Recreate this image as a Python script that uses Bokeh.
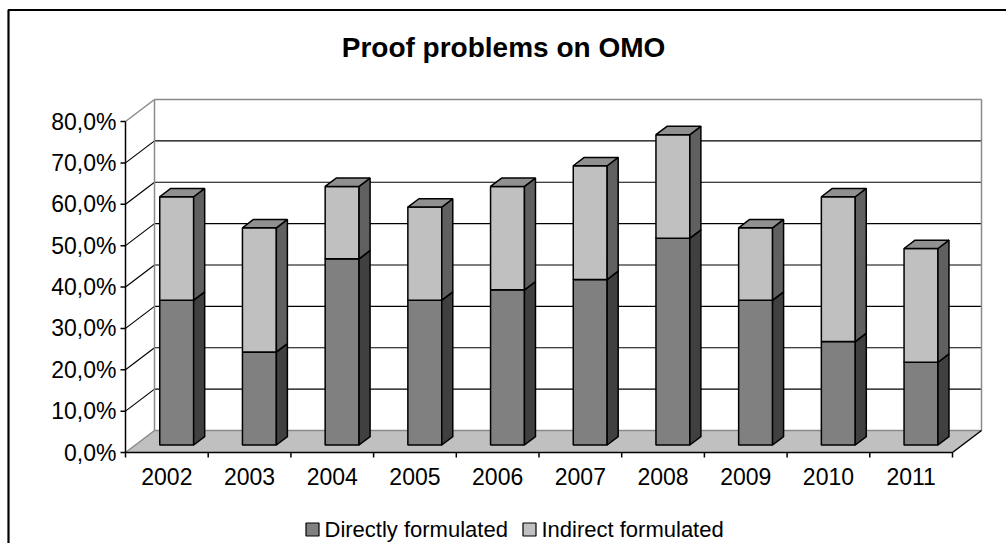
from bokeh.plotting import figure
from bokeh.models import Range1d
from bokeh.embed import file_html
from bokeh.resources import INLINE
from bokeh.core.properties import value

# ---------------- data ----------------
years = ["2002", "2003", "2004", "2005", "2006", "2007", "2008", "2009", "2010", "2011"]
direct = [35.0, 22.5, 45.0, 35.0, 37.5, 40.0, 50.0, 35.0, 25.0, 20.0]
indirect = [25.0, 30.0, 17.5, 22.5, 25.0, 27.5, 25.0, 17.5, 35.0, 27.5]
y_ticks = [0, 10, 20, 30, 40, 50, 60, 70, 80]
y_tick_labels = ["0,0%", "10,0%", "20,0%", "30,0%", "40,0%", "50,0%", "60,0%", "70,0%", "80,0%"]
series_names = ["Directly formulated", "Indirect formulated"]
title_text = "Proof problems on OMO"

# ---------------- layout / style ----------------
W, H = 1006, 543
PXC = 82.7      # pixels per category
PXV = 4.1375    # pixels per percent
X0, Y0 = 125, 452  # pixel position of front axis origin
FONT = "Liberation Sans"


def sx(px):
    return (px - X0) / PXC


def sy(py):
    return (Y0 - py) / PXV


def dxp(n):
    return n / PXC


def dyp(n):
    return n / PXV


n = len(years)
YMAX = y_ticks[-1]
DX, DY = dxp(29), dyp(22)        # full depth of the 3D box
FB, BB = 0.34, 0.72              # bar front/back depth fraction
HW = 0.41 / 2                    # bar half width (category units)

p = figure(width=W, height=H, x_range=Range1d(sx(0), sx(W)), y_range=Range1d(sy(H), sy(0)),
           output_backend="svg", toolbar_location=None, x_axis_location=None, y_axis_location=None,
           min_border=0)
p.grid.visible = False
p.outline_line_color = None
p.background_fill_color = "white"
p.border_fill_color = "white"

# outer frame
p.line([sx(8), sx(8), sx(W + 10)], [sy(H + 10), sy(9.5), sy(9.5)], line_color="black", line_width=2.2)

# walls
p.patch([0, DX, DX, 0], [0, DY, YMAX + DY, YMAX], fill_color="white", line_color=None)
p.patch([DX, n + DX, n + DX, DX], [DY, DY, YMAX + DY, YMAX + DY], fill_color="white", line_color=None)

# gridlines on back wall and side wall
inner = y_ticks[1:-1]
p.multi_line([[DX, n + DX] for v in inner], [[v + DY, v + DY] for v in inner], line_color="black", line_width=1.2)
p.multi_line([[0, DX] for v in inner], [[v, v + DY] for v in inner], line_color="black", line_width=1.2)

# floor
p.patch([0, n, n + DX, DX], [0, 0, DY, DY], fill_color="#c0c0c0", line_color=None)

# wall / floor borders (gray)
GRAY = "#8a8a8a"
p.multi_line([[0, DX], [DX, n + DX], [DX, DX], [n + DX, n + DX], [0, DX], [DX, n + DX]],
             [[YMAX, YMAX + DY], [YMAX + DY, YMAX + DY], [DY, YMAX + DY], [DY, YMAX + DY], [0, DY], [DY, DY]],
             line_color=GRAY, line_width=1.5)

# axes
p.line([0, 0], [0, YMAX], line_color="black", line_width=1.5)
p.line([0, n, n + DX], [0, 0, DY], line_color="black", line_width=1.5)
p.multi_line([[dxp(-5), 0] for v in y_ticks], [[v, v] for v in y_ticks], line_color="black", line_width=1.5)
p.multi_line([[i, i] for i in range(n + 1)], [[0, dyp(-5)] for i in range(n + 1)], line_color="black", line_width=1.5)

# y tick labels
p.text([dxp(-9)] * len(y_ticks), y_ticks, text=y_tick_labels, text_align="right", text_baseline="middle",
       text_font=value(FONT), text_font_size="23px", text_color="black")
# x tick labels
p.text([i + 0.5 for i in range(n)], [dyp(-24)] * n, text=years, text_align="center", text_baseline="middle",
       text_font=value(FONT), text_font_size="23px", text_color="black")


# bars
def faces(bottoms, tops):
    fr_x, fr_y, sd_x, sd_y, tp_x, tp_y = [], [], [], [], [], []
    for i, (b, t) in enumerate(zip(bottoms, tops)):
        c = i + 0.5
        xl, xr = c - HW, c + HW
        fx, fy = FB * DX, FB * DY
        bx, by = BB * DX, BB * DY
        fr_x.append([xl + fx, xr + fx, xr + fx, xl + fx])
        fr_y.append([b + fy, b + fy, t + fy, t + fy])
        sd_x.append([xr + fx, xr + bx, xr + bx, xr + fx])
        sd_y.append([b + fy, b + by, t + by, t + fy])
        tp_x.append([xl + fx, xr + fx, xr + bx, xl + bx])
        tp_y.append([t + fy, t + fy, t + by, t + by])
    return fr_x, fr_y, sd_x, sd_y, tp_x, tp_y


tops1 = list(direct)
bots1 = [0.0] * n
bots2 = tops1
tops2 = [a + b for a, b in zip(direct, indirect)]

seg_styles = [
    (bots1, tops1, "#808080", "#404040", "#606060"),
    (bots2, tops2, "#c0c0c0", "#606060", "#909090"),
]
for bots, tops, cf, cs, ct in seg_styles:
    fr_x, fr_y, sd_x, sd_y, tp_x, tp_y = faces(bots, tops)
    p.patches(fr_x, fr_y, fill_color=cf, line_color="black", line_width=1.5)
    p.patches(sd_x, sd_y, fill_color=cs, line_color="black", line_width=1.5)
    p.patches(tp_x, tp_y, fill_color=ct, line_color="black", line_width=1.5)

# title
p.text([sx(503)], [sy(47)], text=[title_text], text_align="center", text_baseline="middle",
       text_font=value(FONT), text_font_size="28px", text_font_style="bold", text_color="black")

# legend
leg_x = [sx(312), sx(529)]
leg_y = [sy(529), sy(529)]
p.rect(leg_x, leg_y, width=13, height=13, width_units="screen", height_units="screen",
       fill_color=["#808080", "#c0c0c0"], line_color="black", line_width=1.2)
p.text([sx(324), sx(541)], leg_y, text=series_names, text_align="left", text_baseline="middle",
       text_font=value(FONT), text_font_size="22px", text_color="black")

open("out.html", "w").write(file_html(p, INLINE))
